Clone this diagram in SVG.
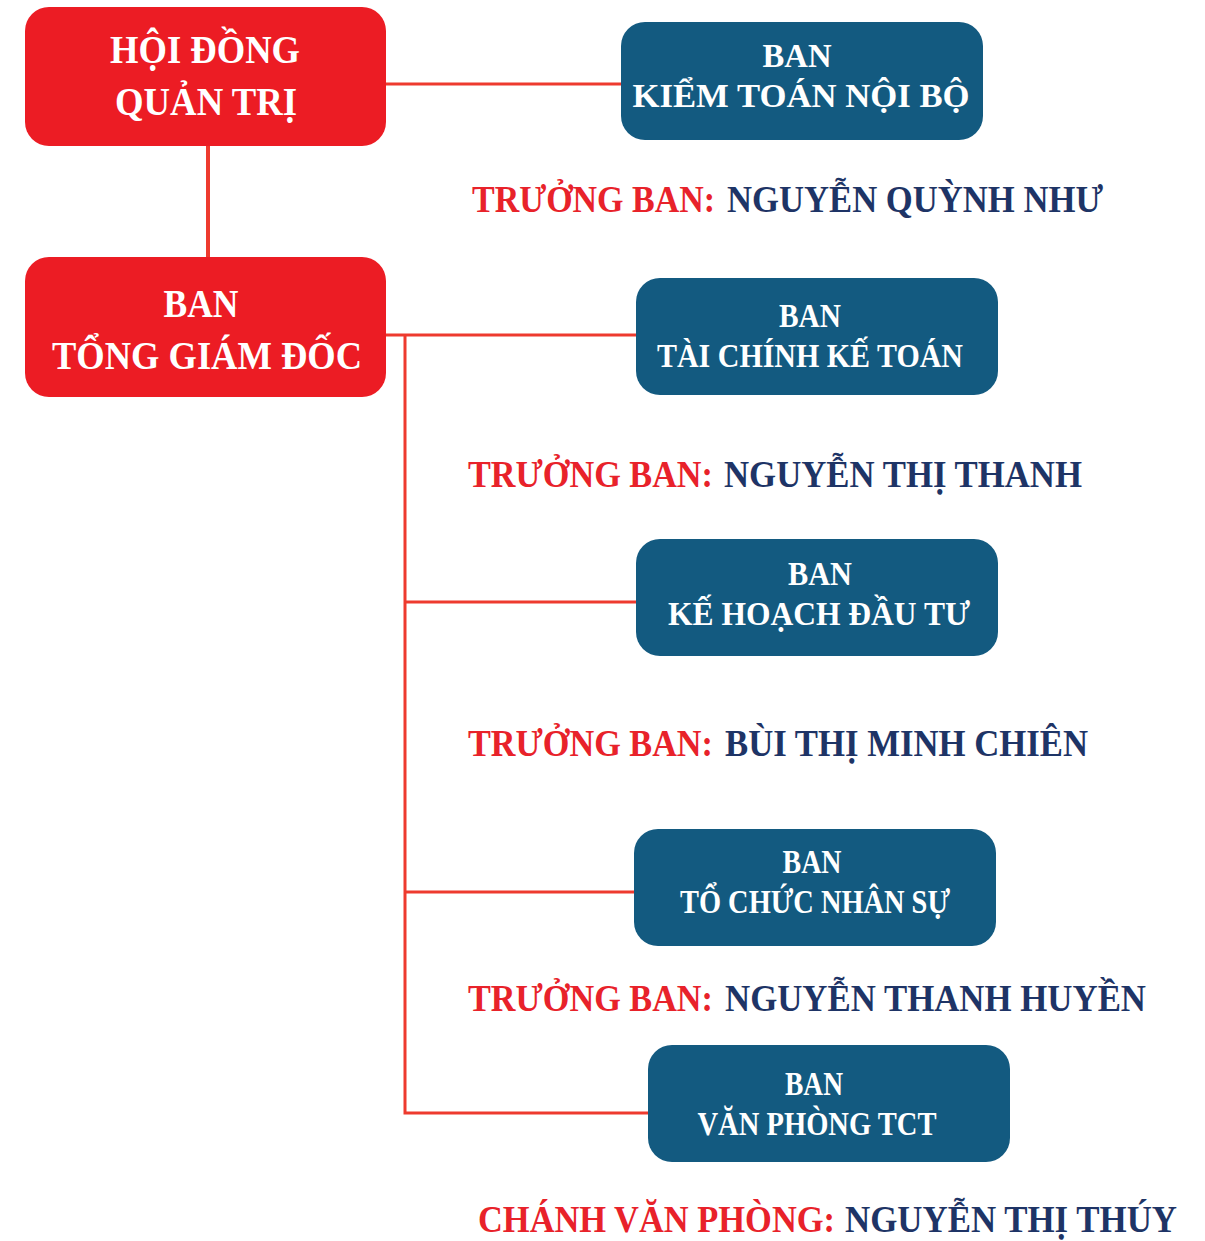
<svg xmlns="http://www.w3.org/2000/svg" width="1205" height="1241" viewBox="0 0 1205 1241">
<style>
.red{fill:#ec1c24}
.blue{fill:#135a80}
.wt{fill:#ffffff;font-family:"Liberation Serif","Times New Roman",serif;font-weight:bold;text-anchor:middle}
.big{font-size:41px}
.mid{font-size:33px}
.cap{font-family:"Liberation Serif","Times New Roman",serif;font-weight:bold;font-size:37px}
.cr{fill:#e8222a}
.cn{fill:#1e3466}
.ln{stroke:#ee3a2e;stroke-width:3;fill:none}
</style>
<rect width="1205" height="1241" fill="#ffffff"/>
<g id="connectors">
<line class="ln" x1="208" y1="146" x2="208" y2="257" style="stroke-width:4"/>
<line class="ln" x1="386" y1="84" x2="621" y2="84"/>
<line class="ln" x1="386" y1="335" x2="636" y2="335"/>
<polyline class="ln" points="405,335 405,1113 648,1113"/>
<line class="ln" x1="405" y1="602" x2="636" y2="602"/>
<line class="ln" x1="405" y1="892" x2="634" y2="892"/>
</g>
<g id="hdqt">
<rect class="red" x="25" y="7" width="361" height="139" rx="24"/>
<text class="wt big" x="205" y="63" textLength="190" lengthAdjust="spacingAndGlyphs">HỘI ĐỒNG</text>
<text class="wt big" x="206" y="115" textLength="182" lengthAdjust="spacingAndGlyphs">QUẢN TRỊ</text>
</g>
<g id="btgd">
<rect class="red" x="25" y="257" width="361" height="140" rx="24"/>
<text class="wt big" x="201" y="317" textLength="75" lengthAdjust="spacingAndGlyphs">BAN</text>
<text class="wt big" x="207" y="369" textLength="310" lengthAdjust="spacingAndGlyphs">TỔNG GIÁM ĐỐC</text>
</g>
<g id="ktnb">
<rect class="blue" x="621" y="22" width="362" height="118" rx="24"/>
<text class="wt mid" x="797" y="67" textLength="69" lengthAdjust="spacingAndGlyphs">BAN</text>
<text class="wt mid" x="801" y="107" textLength="337" lengthAdjust="spacingAndGlyphs">KIỂM TOÁN NỘI BỘ</text>
</g>
<g id="cap1">
<text class="cap cr" x="472" y="212" textLength="243" lengthAdjust="spacingAndGlyphs">TRƯỞNG BAN:</text>
<text class="cap cn" x="727" y="212" textLength="376" lengthAdjust="spacingAndGlyphs">NGUYỄN QUỲNH NHƯ</text>
</g>
<g id="tckt">
<rect class="blue" x="636" y="278" width="362" height="117" rx="24"/>
<text class="wt mid" x="810" y="327" textLength="62" lengthAdjust="spacingAndGlyphs">BAN</text>
<text class="wt mid" x="810" y="367" textLength="306" lengthAdjust="spacingAndGlyphs">TÀI CHÍNH KẾ TOÁN</text>
</g>
<g id="cap2">
<text class="cap cr" x="468" y="487" textLength="245" lengthAdjust="spacingAndGlyphs">TRƯỞNG BAN:</text>
<text class="cap cn" x="724" y="487" textLength="358" lengthAdjust="spacingAndGlyphs">NGUYỄN THỊ THANH</text>
</g>
<g id="khdt">
<rect class="blue" x="636" y="539" width="362" height="117" rx="24"/>
<text class="wt mid" x="820" y="585" textLength="64" lengthAdjust="spacingAndGlyphs">BAN</text>
<text class="wt mid" x="819" y="625" textLength="302" lengthAdjust="spacingAndGlyphs">KẾ HOẠCH ĐẦU TƯ</text>
</g>
<g id="cap3">
<text class="cap cr" x="468" y="756" textLength="245" lengthAdjust="spacingAndGlyphs">TRƯỞNG BAN:</text>
<text class="cap cn" x="725" y="756" textLength="363" lengthAdjust="spacingAndGlyphs">BÙI THỊ MINH CHIÊN</text>
</g>
<g id="tcns">
<rect class="blue" x="634" y="829" width="362" height="117" rx="24"/>
<text class="wt mid" x="812" y="873" textLength="59" lengthAdjust="spacingAndGlyphs">BAN</text>
<text class="wt mid" x="815" y="913" textLength="270" lengthAdjust="spacingAndGlyphs">TỔ CHỨC NHÂN SỰ</text>
</g>
<g id="cap4">
<text class="cap cr" x="468" y="1011" textLength="245" lengthAdjust="spacingAndGlyphs">TRƯỞNG BAN:</text>
<text class="cap cn" x="725" y="1011" textLength="421" lengthAdjust="spacingAndGlyphs">NGUYỄN THANH HUYỀN</text>
</g>
<g id="vptct">
<rect class="blue" x="648" y="1045" width="362" height="117" rx="24"/>
<text class="wt mid" x="814" y="1095" textLength="58" lengthAdjust="spacingAndGlyphs">BAN</text>
<text class="wt mid" x="817" y="1135" textLength="239" lengthAdjust="spacingAndGlyphs">VĂN PHÒNG TCT</text>
</g>
<g id="cap5">
<text class="cap cr" x="478" y="1232" textLength="357" lengthAdjust="spacingAndGlyphs">CHÁNH VĂN PHÒNG:</text>
<text class="cap cn" x="845" y="1232" textLength="332" lengthAdjust="spacingAndGlyphs">NGUYỄN THỊ THÚY</text>
</g>
</svg>
